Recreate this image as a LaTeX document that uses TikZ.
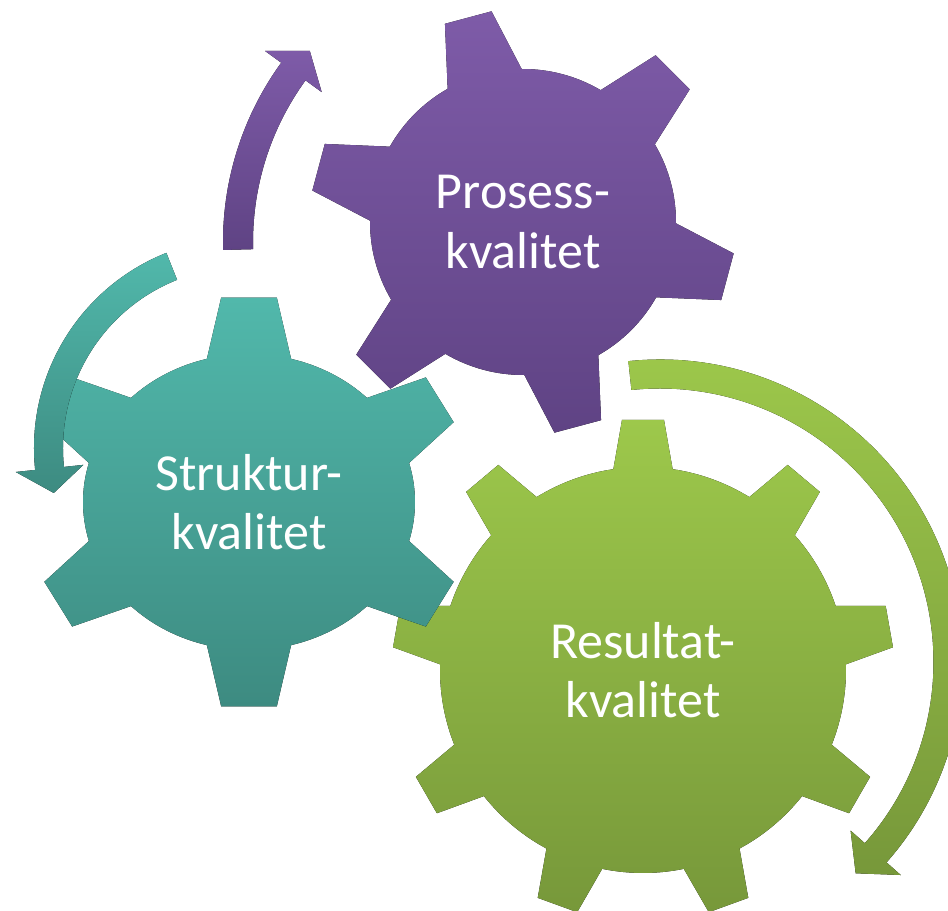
\documentclass[tikz,border=0pt]{standalone}
\usepackage{fontspec}
\setmainfont{Carlito}
\usetikzlibrary{calc}
\definecolor{prosesstop}{HTML}{7E5BA8}
\definecolor{prosessbottom}{HTML}{5F4384}
\definecolor{strukturtop}{HTML}{51B8AB}
\definecolor{strukturbottom}{HTML}{3D8B81}
\definecolor{resultattop}{HTML}{9DC84B}
\definecolor{resultatbottom}{HTML}{77983A}
\newcommand{\drawgear}[8]{
	% #1 centre, #2 fill, #3 teeth, #4 first tooth, #5 body radius, #6 tip radius, #7/#8 half angle of tooth base/tip
	\fill[#2,shift={#1}] ({#4-#7}:#5) \foreach \i [evaluate=\i as \a using #4+(\i-1)*360/#3] in {1,...,#3} {
		-- ({\a-#8}:#6) -- ({\a+#8}:#6) -- ({\a+#7}:#5) arc ({\a+#7}:{\a+360/#3-#7}:#5)
	} -- cycle;
}
\newcommand{\drawturn}[8]{
	% #1 centre, #2 fill, #3 start, #4 head base, #5 tip, #6 radius, #7 half width, #8 half width of head
	\fill[#2,shift={#1}] (#3:{#6+#7}) arc (#3:#4:{#6+#7}) -- (#4:{#6+#8}) -- (#5:#6) -- (#4:{#6-#8}) -- (#4:{#6-#7}) arc (#4:#3:{#6-#7}) -- cycle;
}
\begin{document}
\begin{tikzpicture}[x=0.02cm,y=0.02cm,
	gearlabel/.style={text=white,align=center,font=\fontsize{29.6}{33.6}\selectfont}]
	\useasboundingbox (0,0) rectangle (948,-911);
	\clip (0,0) rectangle (948,-911);
	\coordinate (prosess) at (523,-222);
	\coordinate (struktur) at (249,-502);
	\coordinate (resultat) at (643,-670);
	\coordinate (prosessturn) at (528,-242);
	\coordinate (strukturturn) at (244,-448);
	\coordinate (resultatturn) at (660,-662);
	% gears
	\drawgear{(resultat)}{top color=resultattop,bottom color=resultatbottom}{9}{90}{203}{251}{8.4}{4.8}
	\drawgear{(struktur)}{top color=strukturtop,bottom color=strukturbottom}{6}{90}{166 and 148}{222 and 206}{14.7}{7.2}
	\drawgear{(prosess)}{top color=prosesstop,bottom color=prosessbottom}{6}{105}{153}{213}{14.5}{6.5}
	\node[gearlabel] (prosesslabel) at (prosess) {Prosess-\\kvalitet};
	\node[gearlabel] (strukturlabel) at (struktur) {Struktur-\\kvalitet};
	\node[gearlabel] (resultatlabel) at (resultat) {Resultat-\\kvalitet};
	% arrows round the gears
	\drawturn{(prosessturn)}{top color=prosesstop,bottom color=prosessbottom}{181.5}{144}{138.8}{290}{15}{35}
	\drawturn{(strukturturn)}{top color=strukturtop,bottom color=strukturbottom}{111.7}{186}{193.3}{195.5}{14.5}{34}
	\drawturn{(resultatturn)}{top color=resultattop,bottom color=resultatbottom}{96}{-41.5}{-47.2}{288}{14.5}{33.5}
\end{tikzpicture}
\end{document}
